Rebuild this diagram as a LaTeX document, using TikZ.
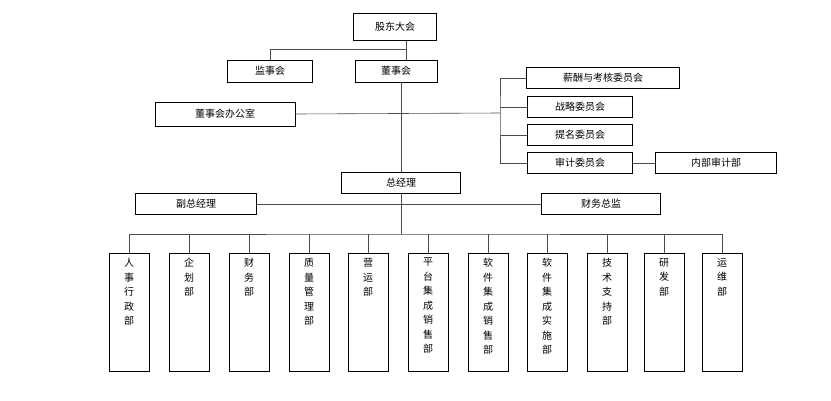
\documentclass[tikz,border=0pt]{standalone}
\usepackage{fontspec}
\setmainfont{Noto Sans CJK SC}
\usetikzlibrary{positioning,calc}

\newcommand{\coltext}[1]{\parbox[t][108pt][t]{12pt}{\centering\fontsize{10}{14.5}\selectfont #1}}

\tikzset{
  box/.style={draw,rectangle,inner sep=0pt,font=\fontsize{10}{12}\selectfont},
  dept/.style={draw,rectangle,inner sep=0pt,inner ysep=5pt,anchor=north,minimum width=40pt,minimum height=117pt},
  link/.style={draw,line width=0.6pt,gray!60!black}
}

\begin{document}
\begin{tikzpicture}[x=1pt,y=-1pt]
    \useasboundingbox (0,0) rectangle (831,400);

    \node[box,minimum width=83pt,minimum height=27pt] (gudong) at (395,27) {股东大会};
    \node[box,minimum width=85pt,minimum height=22pt] (jianshi) at (270,71) {监事会};
    \node[box,minimum width=82pt,minimum height=22pt] (dongshi) at (396,71) {董事会};
    \node[box,minimum width=140pt,minimum height=24pt] (office) at (225,114) {董事会办公室};

    \node[box,minimum width=153pt,minimum height=21pt] (xinchou) at (603,78) {薪酬与考核委员会};
    \node[box,minimum width=105pt,minimum height=21pt] (zhanlue) at (580,107) {战略委员会};
    \node[box,minimum width=105pt,minimum height=21pt] (timing) at (580,135) {提名委员会};
    \node[box,minimum width=105pt,minimum height=21pt] (shenji) at (580,163) {审计委员会};
    \node[box,minimum width=121pt,minimum height=21pt] (neibu) at (716,163) {内部审计部};

    \node[box,minimum width=119pt,minimum height=21pt] (zongjingli) at (401,183) {总经理};
    \node[box,minimum width=121pt,minimum height=21pt] (fuzong) at (196,204) {副总经理};
    \node[box,minimum width=119pt,minimum height=21pt] (caiwu) at (601,204) {财务总监};

    % departments
    \node[dept] (d1) at (129,253) {\coltext{人\\事\\行\\政\\部}};
    \node[dept] (d2) at (189,253) {\coltext{企\\划\\部}};
    \node[dept] (d3) at (249,253) {\coltext{财\\务\\部}};
    \node[dept] (d4) at (309,253) {\coltext{质\\量\\管\\理\\部}};
    \node[dept] (d5) at (368,253) {\coltext{营\\运\\部}};
    \node[dept] (d6) at (428,253) {\coltext{平\\台\\集\\成\\销\\售\\部}};
    \node[dept] (d7) at (488,253) {\coltext{软\\件\\集\\成\\销\\售\\部}};
    \node[dept] (d8) at (547,253) {\coltext{软\\件\\集\\成\\实\\施\\部}};
    \node[dept] (d9) at (607,253) {\coltext{技\\术\\支\\持\\部}};
    \node[dept] (d10) at (664,253) {\coltext{研\\发\\部}};
    \node[dept] (d11) at (722,253) {\coltext{运\\维\\部}};

    \coordinate (top) at (406,49);
    \coordinate (bus) at (500,113);
    \coordinate (low) at (401,234);

    \draw[link] (gudong.south -| top) -- (dongshi.north -| top);
    \draw[link] (top) -| (jianshi.north);
    \draw[link] (dongshi.south -| zongjingli) -- (zongjingli.north);
    \draw[link] (office.east) -- (bus);
    \draw[link] (xinchou.west) -| (bus) |- (shenji.west);
    \draw[link] (zhanlue.west) -- (zhanlue.west -| bus);
    \draw[link] (timing.west) -- (timing.west -| bus);
    \draw[link] (shenji.east) -- (neibu.west);
    \draw[link] (fuzong.east) -- (caiwu.west);
    \draw[link] (zongjingli.south) -- (low);
    \draw[link] (d1.north) |- (low) -| (d11.north);
    \foreach \i in {2,...,10}
        \draw[link] (d\i.north) -- (d\i.north |- low);
\end{tikzpicture}
\end{document}
